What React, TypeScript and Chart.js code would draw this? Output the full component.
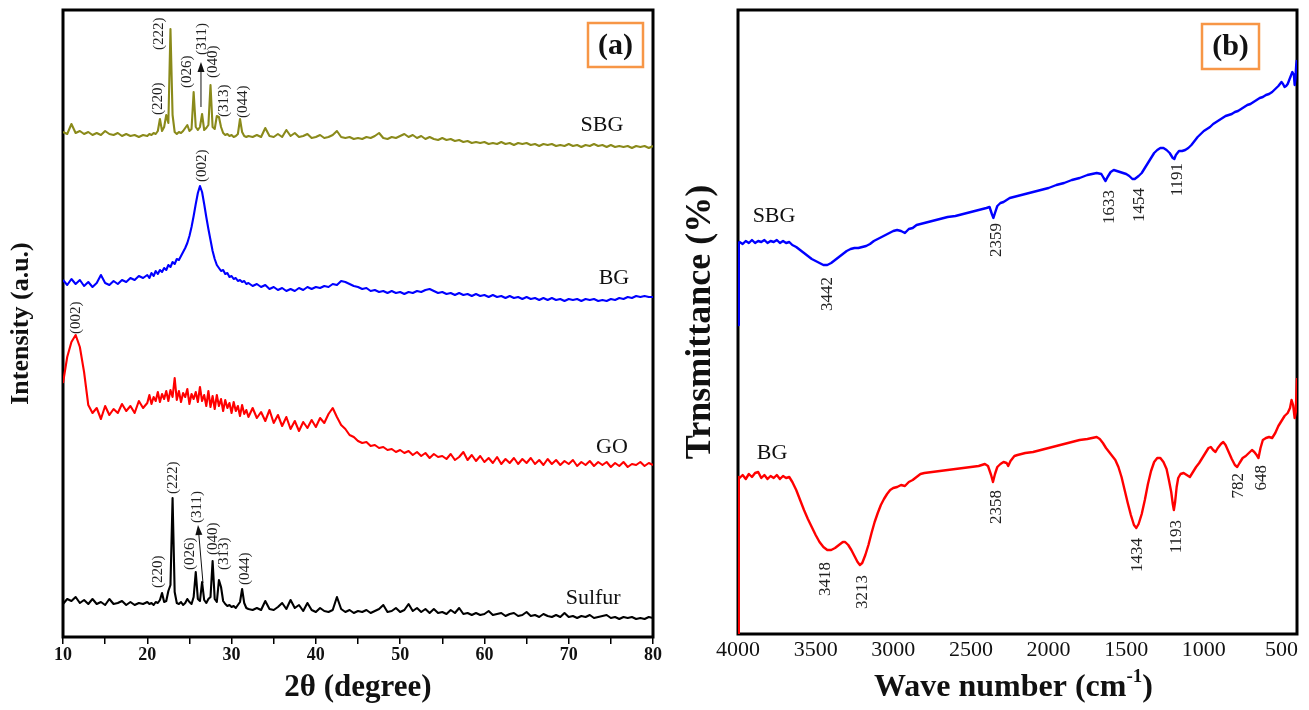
import React, { useEffect, useRef } from 'react';
import { Chart, registerables } from 'chart.js';

Chart.register(...registerables);

const SERIF = "'Liberation Serif', 'Times New Roman', Times, serif";

// ---------- Panel (a): XRD ----------
const xrdAngle = [
  10, 10.5, 11, 11.5, 12, 12.5, 13, 13.5, 14, 14.5,
  15, 15.5, 16, 16.5, 17, 17.5, 18, 18.5, 19, 19.5,
  20, 20.25, 20.5, 20.75, 21, 21.25, 21.5, 21.75, 22, 22.25,
  22.5, 22.75, 23, 23.25, 23.5, 23.75, 24, 24.25, 24.5, 24.75,
  25, 25.25, 25.5, 25.75, 26, 26.25, 26.5, 26.75, 27, 27.25,
  27.5, 27.75, 28, 28.25, 28.5, 28.75, 29, 29.25, 29.5, 29.75,
  30, 30.25, 30.5, 30.75, 31, 31.25, 31.5, 31.75, 32, 32.5,
  33, 33.5, 34, 34.5, 35, 35.5, 36, 36.5, 37, 37.5,
  38, 38.5, 39, 39.5, 40, 40.5, 41, 41.5, 42, 42.5,
  43, 43.5, 44, 44.5, 45, 45.5, 46, 46.5, 47, 47.5,
  48, 48.5, 49, 49.5, 50, 50.5, 51, 51.5, 52, 52.5,
  53, 53.5, 54, 54.5, 55, 55.5, 56, 56.5, 57, 57.5,
  58, 58.5, 59, 59.5, 60, 60.5, 61, 61.5, 62, 62.5,
  63, 63.5, 64, 64.5, 65, 65.5, 66, 66.5, 67, 67.5,
  68, 68.5, 69, 69.5, 70, 70.5, 71, 71.5, 72, 72.5,
  73, 73.5, 74, 74.5, 75, 75.5, 76, 76.5, 77, 77.5,
  78, 78.5, 79, 79.5, 80,
];

const sulfurIntensity = [
  33, 38, 36, 40, 34, 37, 33, 38, 33, 35,
  32, 38, 33, 34, 36, 32, 35, 32, 34, 33,
  35, 33, 34, 32, 35, 34, 37, 44, 35, 36,
  46, 52, 139, 45, 34, 33, 35, 32, 34, 38,
  35, 33, 40, 65, 38, 36, 55, 37, 34, 38,
  40, 76, 38, 35, 57, 50, 36, 33, 31, 32,
  30, 31, 29, 32, 35, 48, 34, 29, 28, 27,
  29, 27, 36, 28, 27, 30, 34, 28, 37, 29,
  32, 26, 34, 27, 25, 29, 26, 25, 27, 40,
  28, 25, 27, 24, 26, 25, 27, 24, 26, 28,
  32, 25, 26, 29, 25, 27, 33, 26, 29, 25,
  28, 24, 28, 24, 25, 23, 27, 24, 29, 23,
  24, 22, 24, 22, 23, 26, 22, 23, 24, 21,
  23, 24, 21, 22, 25, 21, 22, 20, 23, 21,
  20, 22, 20, 24, 20, 21, 19, 21, 20, 22,
  19, 20, 21, 22, 19, 20, 18, 20, 19, 20,
  18, 19, 18, 20, 19,
];

const goIntensity = [
  254, 280, 295, 302, 290, 265, 232, 224, 229, 218,
  231, 222, 228, 224, 233, 226, 231, 224, 236, 229,
  234, 242, 233, 240, 236, 245, 235, 243, 238, 246,
  236, 247, 240, 259, 237, 246, 235, 244, 240, 248,
  233, 243, 238, 245, 235, 250, 236, 242, 231, 246,
  230, 241, 228, 242, 231, 238, 226, 237, 229, 234,
  224, 235, 226, 231, 221, 232, 223, 227, 220, 229,
  219, 225, 216, 227, 214, 222, 211, 220, 208, 216,
  206, 215, 209, 217, 210, 219, 214, 223, 229, 220,
  212, 208, 202, 200, 196, 194, 195, 191, 192, 189,
  190, 187, 188, 185, 187, 184, 186, 182, 185, 181,
  184, 179, 183, 180, 181, 178, 183, 177, 180, 185,
  177, 182, 176, 181, 175, 179, 174, 180, 173, 178,
  174, 179, 173, 178, 174, 179, 173, 177, 172, 178,
  173, 177, 172, 176, 173, 177, 171, 175, 172, 176,
  171, 175, 172, 175, 170, 174, 171, 175, 170, 173,
  172, 175, 171, 174, 172,
];

const bgIntensity = [
  357, 352, 358, 353, 357, 351, 355, 350, 354, 362,
  354, 352, 356, 353, 357, 355, 359, 357, 361, 359,
  362, 359, 364, 361, 366, 363, 367, 365, 369, 367,
  372, 370, 375, 373, 378, 377, 381, 385, 389, 394,
  401, 410, 421, 433, 444, 451, 445, 433, 420, 408,
  397, 386, 378, 372, 369, 366, 367, 363, 364, 360,
  361, 358, 359, 356, 357, 355, 356, 353, 354, 351,
  353, 350, 352, 348, 350, 347, 349, 346, 348, 346,
  349, 347, 350, 348, 350, 349, 351, 350, 353, 352,
  356, 355, 353, 351, 350, 348, 349, 346, 347, 345,
  346, 344, 346, 344, 345, 343, 345, 344, 346, 345,
  347, 348, 346, 344, 345, 343, 344, 342, 344, 342,
  343, 341, 343, 341, 342, 340, 342, 340, 341, 339,
  341, 339, 340, 338, 340, 338, 339, 337, 339, 337,
  339, 337, 338, 336, 338, 337, 338, 336, 338, 337,
  338, 336, 337, 336, 338, 337, 339, 338, 340, 339,
  341, 340, 341, 340, 340,
];

const sbgIntensity = [
  505, 503, 513, 504, 506, 503, 505, 502, 504, 502,
  506, 503, 502, 504, 501, 503, 501, 502, 500, 502,
  501, 503, 502, 504, 503, 506, 518, 506, 510, 522,
  514, 608, 522, 505, 503, 505, 504, 506, 509, 512,
  506, 508, 545, 510, 507, 510, 523, 507, 509, 512,
  552, 510, 508, 521, 520, 510, 504, 502, 503, 501,
  502, 500, 501, 503, 518, 505, 501, 500, 501, 500,
  502, 500, 509, 501, 500, 503, 500, 507, 501, 504,
  500, 501, 503, 499, 500, 502, 499, 500, 502, 506,
  500, 499, 500, 498, 499, 498, 500, 499, 501, 504,
  499, 498, 500, 499, 501, 503, 500, 502, 499, 501,
  498, 500, 498, 497, 499, 497, 498, 496, 497, 495,
  496, 494, 495, 494, 495, 493, 494, 493, 495, 493,
  494, 492, 494, 493, 494, 492, 493, 491, 493, 492,
  493, 491, 492, 491, 493, 491, 492, 490, 492, 491,
  493, 491, 492, 490, 492, 490, 491, 490, 491, 489,
  491, 490, 491, 489, 491,
];

const xrdTicks = [10, 20, 30, 40, 50, 60, 70, 80];
const xrdMinorTicks = [15, 25, 35, 45, 55, 65, 75];

const hklLabels = ['(220)', '(222)', '(026)', '(311)', '(040)', '(313)', '(044)'];
const sbgHklAngle = [21.27, 21.39, 24.71, 26.49, 27.8, 29.1, 31.36];
const sbgHklBase = [522, 587, 549, 582, 559, 520, 519];
const sulfurHklAngle = [21.27, 23.05, 25.07, 25.9, 27.8, 29.1, 31.6];
const sulfurHklBase = [49, 143, 67, 114, 82, 67, 52];
const carbonLabel = '(002)';
const carbonLabelAngle = [26.49, 11.54];
const carbonLabelBase = [455, 303];
const sbgArrow = [26.37, 530, 26.37, 575];
const sulfurArrow = [26.61, 54, 26.02, 112];

const xrdNames = ['SBG', 'BG', 'GO', 'Sulfur'];
const xrdNameAngle = [73.95, 75.37, 75.13, 72.9];
const xrdNameLevel = [512, 359, 190, 39];

// ---------- Panel (b): FTIR ----------
const sbgWave = [
  4000, 3995, 3990, 3970, 3950, 3930, 3910, 3890, 3870, 3850,
  3830, 3810, 3790, 3770, 3750, 3730, 3710, 3690, 3670, 3650,
  3625, 3600, 3575, 3550, 3525, 3500, 3475, 3450, 3425, 3400,
  3375, 3350, 3325, 3300, 3275, 3250, 3225, 3200, 3175, 3150,
  3125, 3100, 3075, 3050, 3025, 3000, 2975, 2950, 2925, 2900,
  2875, 2850, 2825, 2800, 2750, 2700, 2650, 2600, 2550, 2500,
  2450, 2400, 2380, 2365, 2355, 2345, 2330, 2310, 2290, 2270,
  2250, 2200, 2150, 2100, 2050, 2000, 1950, 1900, 1850, 1800,
  1750, 1720, 1690, 1660, 1645, 1633, 1620, 1600, 1580, 1560,
  1540, 1520, 1500, 1480, 1460, 1445, 1420, 1400, 1380, 1360,
  1340, 1320, 1300, 1280, 1260, 1240, 1220, 1200, 1190, 1180,
  1160, 1140, 1120, 1100, 1080, 1060, 1040, 1020, 1000, 980,
  960, 940, 920, 900, 880, 860, 840, 820, 800, 780,
  760, 740, 720, 700, 680, 660, 640, 620, 600, 580,
  560, 540, 520, 500, 490, 480, 470, 460, 450, 440,
  430, 420, 415, 410, 405, 400,
];
const sbgTrans = [
  309, 391, 392, 390, 393, 391, 394, 391, 393, 392,
  394, 391, 393, 392, 394, 391, 393, 391, 392, 389,
  387, 384, 381, 378, 375, 373, 371, 369, 369, 371,
  374, 377, 380, 383, 385, 386, 386, 387, 388, 390,
  393, 395, 397, 399, 401, 403, 404, 403, 401, 405,
  406, 409, 410, 411, 413, 415, 417, 418, 420, 422,
  424, 426, 427, 420, 416, 421, 428, 431, 432, 434,
  436, 438, 440, 442, 444, 446, 449, 451, 454, 456,
  459, 460, 461, 460, 456, 453, 457, 462, 464, 463,
  462, 461, 460, 458, 455, 455, 458, 461, 466, 471,
  476, 481, 484, 486, 486, 484, 481, 476, 475, 479,
  483, 483, 484, 486, 489, 493, 497, 500, 503, 505,
  507, 510, 512, 514, 516, 518, 519, 520, 522, 523,
  525, 527, 529, 530, 532, 534, 536, 537, 539, 540,
  542, 545, 548, 552, 550, 547, 548, 550, 554, 558,
  562, 559, 549, 556, 569, 574,
];

const bgWave = [
  4000, 3995, 3990, 3970, 3950, 3930, 3910, 3890, 3870, 3850,
  3830, 3810, 3790, 3770, 3750, 3730, 3710, 3690, 3670, 3650,
  3625, 3600, 3575, 3550, 3525, 3500, 3475, 3450, 3425, 3400,
  3375, 3350, 3325, 3310, 3290, 3270, 3250, 3230, 3215, 3200,
  3180, 3160, 3140, 3120, 3100, 3080, 3060, 3040, 3020, 3000,
  2975, 2950, 2925, 2900, 2875, 2850, 2825, 2800, 2750, 2700,
  2650, 2600, 2550, 2500, 2450, 2410, 2390, 2370, 2358, 2345,
  2330, 2310, 2290, 2270, 2260, 2245, 2220, 2200, 2150, 2100,
  2050, 2000, 1950, 1900, 1850, 1800, 1750, 1720, 1690, 1670,
  1650, 1630, 1610, 1590, 1570, 1550, 1530, 1510, 1490, 1470,
  1450, 1435, 1420, 1400, 1380, 1360, 1340, 1320, 1300, 1280,
  1260, 1240, 1225, 1210, 1200, 1193, 1185, 1175, 1165, 1150,
  1130, 1110, 1090, 1070, 1050, 1030, 1010, 990, 970, 955,
  940, 925, 910, 890, 875, 860, 840, 820, 800, 785,
  770, 750, 730, 710, 690, 675, 660, 648, 635, 620,
  600, 580, 560, 540, 520, 500, 480, 460, 445, 435,
  425, 415, 408, 403, 400,
];
const bgTrans = [
  0, 157, 156, 159, 155, 160, 157, 161, 162, 156,
  159, 155, 158, 156, 159, 155, 158, 156, 157, 152,
  144, 134, 124, 115, 107, 99, 92, 87, 84, 84,
  86, 89, 92, 92, 89, 84, 78, 72, 69, 71,
  79, 89, 101, 112, 121, 129, 135, 140, 144, 146,
  147, 149, 148, 152, 154, 157, 160, 161, 162, 163,
  164, 165, 166, 167, 168, 170, 168, 159, 152, 160,
  167, 170, 172, 171, 168, 173, 178, 179, 181, 182,
  184, 186, 188, 190, 192, 194, 195, 196, 197, 195,
  191, 186, 182, 178, 174, 167, 157, 144, 131, 119,
  109, 106, 110, 120, 134, 150, 163, 172, 176, 176,
  172, 165, 154, 142, 130, 124, 132, 147, 156, 160,
  161, 159, 157, 162, 167, 171, 176, 181, 186, 187,
  184, 182, 186, 190, 192, 189, 182, 175, 169, 167,
  171, 176, 178, 181, 184, 182, 179, 176, 186, 194,
  196, 197, 196, 201, 208, 213, 218, 221, 226, 234,
  229, 216, 222, 244, 256,
];

const ftirTicks = [4000, 3500, 3000, 2500, 2000, 1500, 1000, 500];

const sbgBandLabels = ['3442', '2359', '1633', '1454', '1191'];
const sbgBandWave = [3426, 2335, 1606, 1413, 1168];
const sbgBandTop = [357, 411, 444, 446, 471];
const bgBandLabels = ['3418', '3213', '2358', '1434', '1193', '782', '648'];
const bgBandWave = [3439, 3200, 2335, 1426, 1174, 774, 626];
const bgBandTop = [72, 59, 144, 96, 114, 161, 169];

const ftirNames = ['SBG', 'BG'];
const ftirNameWave = [3768, 3781];
const ftirNameLevel = [418, 181];

const OLIVE = '#8a8a1a';
const BLUE = '#0000ff';
const RED = '#ff0000';
const BLACK = '#000000';
const ORANGE = '#f79646';

function pairs(xs: number[], ys: number[]) {
  return xs.map((x, i) => ({ x, y: ys[i] }));
}

function vText(ctx: CanvasRenderingContext2D, text: string, x: number, y: number, align: CanvasTextAlign) {
  ctx.save();
  ctx.translate(x, y);
  ctx.rotate(-Math.PI / 2);
  ctx.textAlign = align;
  ctx.textBaseline = 'middle';
  ctx.fillText(text, 0, 0);
  ctx.restore();
}

function arrow(ctx: CanvasRenderingContext2D, x1: number, y1: number, x2: number, y2: number) {
  const ang = Math.atan2(y2 - y1, x2 - x1);
  const hl = 10, hw = 3.5;
  const bx = x2 - hl * Math.cos(ang), by = y2 - hl * Math.sin(ang);
  ctx.save();
  ctx.strokeStyle = '#111';
  ctx.fillStyle = '#111';
  ctx.lineWidth = 1;
  ctx.beginPath();
  ctx.moveTo(x1, y1);
  ctx.lineTo(bx, by);
  ctx.stroke();
  ctx.beginPath();
  ctx.moveTo(x2, y2);
  ctx.lineTo(bx + hw * Math.sin(ang), by - hw * Math.cos(ang));
  ctx.lineTo(bx - hw * Math.sin(ang), by + hw * Math.cos(ang));
  ctx.closePath();
  ctx.fill();
  ctx.restore();
}

function panelBox(ctx: CanvasRenderingContext2D, text: string, right: number, top: number, w: number, h: number) {
  ctx.save();
  ctx.strokeStyle = ORANGE;
  ctx.lineWidth = 2.5;
  ctx.strokeRect(right - w, top, w, h);
  ctx.fillStyle = '#111';
  ctx.font = `bold 30px ${SERIF}`;
  ctx.textAlign = 'center';
  ctx.textBaseline = 'middle';
  ctx.fillText(text, right - w / 2, top + h / 2 + 1);
  ctx.restore();
}

const framePlugin = {
  id: 'frame',
  beforeDatasetsDraw(chart: any) {
    const { ctx, chartArea: a } = chart;
    ctx.save();
    ctx.strokeStyle = BLACK;
    ctx.lineWidth = 3;
    ctx.strokeRect(a.left, a.top, a.right - a.left, a.bottom - a.top);
    ctx.restore();
  },
};

const xrdNotes = {
  id: 'xrdNotes',
  afterDatasetsDraw(chart: any) {
    const { ctx, chartArea } = chart;
    const px = (v: number) => chart.scales.x.getPixelForValue(v);
    const py = (v: number) => chart.scales.y.getPixelForValue(v);
    ctx.save();
    ctx.fillStyle = '#222';
    ctx.font = `15px ${SERIF}`;
    hklLabels.forEach((t, i) => vText(ctx, t, px(sbgHklAngle[i]), py(sbgHklBase[i]), 'left'));
    hklLabels.forEach((t, i) => vText(ctx, t, px(sulfurHklAngle[i]), py(sulfurHklBase[i]), 'left'));
    carbonLabelAngle.forEach((a, i) => vText(ctx, carbonLabel, px(a), py(carbonLabelBase[i]), 'left'));
    arrow(ctx, px(sbgArrow[0]), py(sbgArrow[1]), px(sbgArrow[2]), py(sbgArrow[3]));
    arrow(ctx, px(sulfurArrow[0]), py(sulfurArrow[1]), px(sulfurArrow[2]), py(sulfurArrow[3]));
    ctx.fillStyle = '#111';
    ctx.font = `22px ${SERIF}`;
    ctx.textAlign = 'center';
    ctx.textBaseline = 'middle';
    xrdNames.forEach((n, i) => ctx.fillText(n, px(xrdNameAngle[i]), py(xrdNameLevel[i])));
    ctx.restore();
    panelBox(ctx, '(a)', chartArea.right - 10, chartArea.top + 13, 55, 44);
  },
};

const ftirNotes = {
  id: 'ftirNotes',
  afterDatasetsDraw(chart: any) {
    const { ctx, chartArea } = chart;
    const px = (v: number) => chart.scales.x.getPixelForValue(v);
    const py = (v: number) => chart.scales.y.getPixelForValue(v);
    ctx.save();
    ctx.fillStyle = '#222';
    ctx.font = `17px ${SERIF}`;
    sbgBandLabels.forEach((t, i) => vText(ctx, t, px(sbgBandWave[i]), py(sbgBandTop[i]), 'right'));
    bgBandLabels.forEach((t, i) => vText(ctx, t, px(bgBandWave[i]), py(bgBandTop[i]), 'right'));
    ctx.fillStyle = '#111';
    ctx.font = `22px ${SERIF}`;
    ctx.textAlign = 'center';
    ctx.textBaseline = 'middle';
    ftirNames.forEach((n, i) => ctx.fillText(n, px(ftirNameWave[i]), py(ftirNameLevel[i])));
    ctx.restore();
    panelBox(ctx, '(b)', chartArea.right - 38, chartArea.top + 14, 57, 45);

    // x-axis title with superscript
    ctx.save();
    ctx.fillStyle = '#111';
    ctx.textBaseline = 'alphabetic';
    ctx.textAlign = 'left';
    const main = 'Wave number (cm';
    const sup = '-1';
    const end = ')';
    ctx.font = `bold 32px ${SERIF}`;
    const w1 = ctx.measureText(main).width;
    const w3 = ctx.measureText(end).width;
    ctx.font = `bold 19px ${SERIF}`;
    const w2 = ctx.measureText(sup).width;
    const total = w1 + w2 + w3;
    const cx = (chartArea.left + chartArea.right) / 2 - 4;
    const base = 696;
    let x = cx - total / 2;
    ctx.font = `bold 32px ${SERIF}`;
    ctx.fillText(main, x, base);
    x += w1;
    ctx.font = `bold 19px ${SERIF}`;
    ctx.fillText(sup, x, base - 14);
    x += w2;
    ctx.font = `bold 32px ${SERIF}`;
    ctx.fillText(end, x, base);
    ctx.restore();
  },
};

function lineDs(label: string, xs: number[], ys: number[], color: string, width: number) {
  return {
    label,
    data: pairs(xs, ys),
    borderColor: color,
    backgroundColor: color,
    borderWidth: width,
    pointRadius: 0,
    tension: 0,
    borderJoinStyle: 'round' as const,
    fill: false,
  };
}

export default function App() {
  const refA = useRef<HTMLCanvasElement>(null);
  const refB = useRef<HTMLCanvasElement>(null);

  useEffect(() => {
    const chartA = new Chart(refA.current as HTMLCanvasElement, {
      type: 'line',
      data: {
        datasets: [
          lineDs('SBG', xrdAngle, sbgIntensity, OLIVE, 2.1),
          lineDs('BG', xrdAngle, bgIntensity, BLUE, 2.1),
          lineDs('GO', xrdAngle, goIntensity, RED, 2.1),
          lineDs('Sulfur', xrdAngle, sulfurIntensity, BLACK, 2.1),
        ],
      },
      options: {
        animation: false,
        responsive: false,
        maintainAspectRatio: false,
        layout: { padding: { left: 0, right: 25, top: 10, bottom: 0 } },
        plugins: { legend: { display: false }, tooltip: { enabled: false } },
        scales: {
          x: {
            type: 'linear',
            min: xrdTicks[0],
            max: xrdTicks[xrdTicks.length - 1],
            afterBuildTicks: (s: any) => {
              s.ticks = [...xrdTicks, ...xrdMinorTicks].sort((a, b) => a - b).map((v) => ({ value: v }));
            },
            ticks: {
              autoSkip: false,
              maxRotation: 0,
              padding: 1,
              color: '#111',
              font: { family: SERIF, size: 18, weight: 'bold' },
              callback: (v: any) => (xrdTicks.includes(Number(v)) ? String(v) : ''),
            },
            grid: { drawOnChartArea: false, drawTicks: true, tickLength: 7, color: BLACK, lineWidth: 1.5 },
            border: { display: false },
            title: {
              display: true,
              text: '2θ (degree)',
              color: '#111',
              font: { family: SERIF, size: 31, weight: 'bold' },
              padding: { top: 0, bottom: 3 },
            },
            afterFit: (s: any) => { s.height = 73; },
          },
          y: {
            min: 0,
            max: 627,
            ticks: { display: false },
            grid: { display: false, drawTicks: false },
            border: { display: false },
            title: {
              display: true,
              text: 'Intensity (a.u.)',
              color: '#111',
              font: { family: SERIF, size: 26, weight: 'bold' },
              padding: { top: 6, bottom: 0 },
            },
            afterFit: (s: any) => { s.width = 63; },
          },
        },
      } as any,
      plugins: [framePlugin, xrdNotes],
    });

    const chartB = new Chart(refB.current as HTMLCanvasElement, {
      type: 'line',
      data: {
        datasets: [
          lineDs('SBG', sbgWave, sbgTrans, BLUE, 2.4),
          lineDs('BG', bgWave, bgTrans, RED, 2.4),
        ],
      },
      options: {
        animation: false,
        responsive: false,
        maintainAspectRatio: false,
        layout: { padding: { left: 0, right: 12, top: 10, bottom: 0 } },
        plugins: { legend: { display: false }, tooltip: { enabled: false } },
        scales: {
          x: {
            type: 'linear',
            reverse: true,
            min: 400,
            max: ftirTicks[0],
            afterBuildTicks: (s: any) => {
              s.ticks = ftirTicks.map((v) => ({ value: v }));
            },
            ticks: {
              autoSkip: false,
              maxRotation: 0,
              padding: 3,
              color: '#111',
              font: { family: SERIF, size: 22 },
              callback: (v: any) => String(v),
            },
            grid: { display: false, drawTicks: false },
            border: { display: false },
            title: { display: false },
            afterFit: (s: any) => { s.height = 76; },
          },
          y: {
            min: 0,
            max: 624,
            ticks: { display: false },
            grid: { display: false, drawTicks: false },
            border: { display: false },
            title: {
              display: true,
              text: 'Trnsmittance (%)',
              color: '#111',
              font: { family: SERIF, size: 36, weight: 'bold' },
              padding: { top: 1, bottom: 0 },
            },
            afterFit: (s: any) => { s.width = 60; },
          },
        },
      } as any,
      plugins: [framePlugin, ftirNotes],
    });

    return () => {
      chartA.destroy();
      chartB.destroy();
    };
  }, []);

  return (
    <div style={{ position: 'absolute', left: 0, top: 0, width: 1309, height: 710, background: '#fff', overflow: 'hidden' }}>
      <canvas ref={refA} width={678} height={710} style={{ position: 'absolute', left: 0, top: 0 }} />
      <canvas ref={refB} width={631} height={710} style={{ position: 'absolute', left: 678, top: 0 }} />
    </div>
  );
}
